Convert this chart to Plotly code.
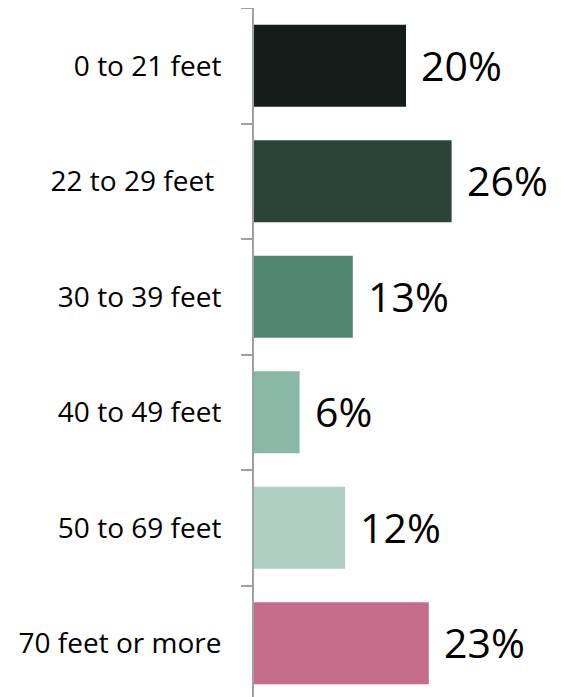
import plotly.graph_objects as go

categories = ["0 to 21 feet", "22 to 29 feet\u00a0", "30 to 39 feet", "40 to 49 feet",
              "50 to 69 feet", "70 feet or more"]
shares = [20, 26, 13, 6, 12, 23]
labels = ["20%", "26%", "13%", "6%", "12%", "23%"]
colors = ["#141d19", "#2b4439", "#50866f", "#89b8a7", "#aecfc2", "#c66c8b"]

fig = go.Figure(go.Bar(
    x=shares,
    y=categories,
    orientation="h",
    marker=dict(color=colors, line=dict(width=0)),
    hoverinfo="skip",
))

for v, c, t in zip(shares, categories, labels):
    fig.add_annotation(x=v, y=c, text=t, showarrow=False, xanchor="left",
                       xshift=13, yshift=1,
                       font=dict(family="Open Sans", size=41, color="#000000"))

# page body adds an 8px offset, so margins are shifted to compensate
fig.update_layout(
    width=561, height=697,
    margin=dict(l=246, r=0, t=0, b=0),
    plot_bgcolor="white", paper_bgcolor="white",
    bargap=0.29,
    showlegend=False,
    font=dict(family="Open Sans", color="#000000"),
)
fig.update_xaxes(visible=False, range=[0, 315 / 7.6])
fig.update_yaxes(
    type="category",
    range=[-0.5 + 697 / 115.5, -0.5],
    showline=True, linecolor="#a0a0a0", linewidth=2,
    ticks="outside", tickson="boundaries", ticklen=11, tickwidth=2, tickcolor="#a0a0a0",
    ticklabelstandoff=25,
    tickfont=dict(family="Open Sans", size=28, color="#000000"),
    showgrid=False, zeroline=False,
)

fig.write_html("out.html")
